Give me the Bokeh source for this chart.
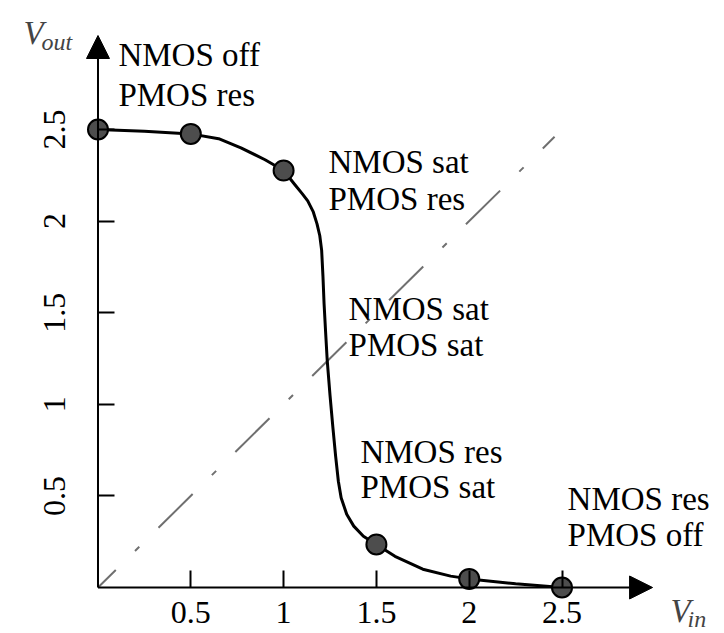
from bokeh.plotting import figure
from bokeh.models import Range1d, LinearAxis, FixedTicker, Arrow, NormalHead, Label
from bokeh.embed import file_html
from bokeh.resources import INLINE

# --- data -------------------------------------------------------------------
vin_points = [0.0, 0.5, 1.0, 1.5, 2.0, 2.5]
vout_points = [2.5, 2.476, 2.276, 0.235, 0.047, 0.0]

vin_curve = [0.0, 0.25, 0.5, 0.65, 0.77, 0.9, 1.0, 1.06, 1.10, 1.13, 1.16, 1.18, 1.195,
             1.205, 1.212, 1.218, 1.226, 1.235, 1.25, 1.265, 1.28, 1.295, 1.31, 1.34,
             1.378, 1.43, 1.5, 1.6, 1.75, 1.9, 2.0, 2.25, 2.5]
vout_curve = [2.5, 2.49, 2.476, 2.45, 2.40, 2.335, 2.276, 2.2, 2.15, 2.11, 2.05, 1.985, 1.92,
              1.84, 1.70, 1.55, 1.40, 1.24, 1.05, 0.88, 0.72, 0.58, 0.49, 0.40,
              0.335, 0.28, 0.235, 0.17, 0.10, 0.062, 0.047, 0.02, 0.0]

diag_vin = [0.0, 2.46]
diag_vout = [0.0, 2.46]

x_ticks = [0.5, 1, 1.5, 2, 2.5]
y_ticks = [0.5, 1, 1.5, 2, 2.5]

region_line1 = ["NMOS off", "NMOS sat", "NMOS sat", "NMOS res", "NMOS res"]
region_line2 = ["PMOS res", "PMOS res", "PMOS sat", "PMOS sat", "PMOS off"]

# --- layout (positions in data units) ----------------------------------------
region_x = [0.110, 1.242, 1.350, 1.414, 2.530]
region_y1 = [2.904, 2.322, 1.521, 0.739, 0.484]
region_y2 = [2.686, 2.122, 1.321, 0.546, 0.284]

FONT = "Liberation Serif, Times New Roman, Times, serif"

p = figure(width=724, height=633,
           x_range=Range1d(-0.5253, 3.3755), y_range=Range1d(-0.2511, 3.2041),
           x_axis_type=None, y_axis_type=None,
           toolbar_location=None, output_backend="svg",
           min_border=0, outline_line_color=None)
p.background_fill_color = "white"
p.border_fill_color = "white"

axis_style = dict(
    axis_line_color=None,
    major_tick_in=17, major_tick_out=0,
    major_tick_line_color="black", major_tick_line_width=2,
    minor_tick_line_color=None,
    major_label_text_font=FONT, major_label_text_font_size="32px",
    major_label_text_color="black",
)

xa = LinearAxis(fixed_location=0, ticker=FixedTicker(ticks=x_ticks),
                major_label_standoff=15, **axis_style)
p.add_layout(xa, "below")

ya = LinearAxis(fixed_location=0, ticker=FixedTicker(ticks=y_ticks),
                major_label_orientation="vertical",
                major_label_standoff=33, **axis_style)
p.add_layout(ya, "left")

# diagonal Vin = Vout reference line
p.line(diag_vin, diag_vout, line_color="#707070", line_width=2,
       line_dash="48 27 6 27", line_dash_offset=23)

# axes arrows
p.add_layout(Arrow(end=NormalHead(size=23, fill_color="black", line_color="black", line_width=1),
                   x_start=0, y_start=0, x_end=2.988, y_end=0,
                   line_width=2, line_color="black"))
p.add_layout(Arrow(end=NormalHead(size=23, fill_color="black", line_color="black", line_width=1),
                   x_start=0, y_start=0, x_end=0, y_end=3.013,
                   line_width=2, line_color="black"))

# transfer curve
p.line(vin_curve, vout_curve, line_color="black", line_width=3, line_join="round")
p.scatter(vin_points, vout_points, size=20, fill_color="#4d4d4d",
          line_color="black", line_width=2)

# region annotations
for x, y1, y2, t1, t2 in zip(region_x, region_y1, region_y2, region_line1, region_line2):
    for y, t in ((y1, t1), (y2, t2)):
        p.add_layout(Label(x=x, y=y, text=t, text_font=FONT, text_font_size="33px",
                           text_color="black", text_align="left",
                           text_baseline="alphabetic"))

# axis titles V_out and V_in
p.add_layout(Label(x=-0.401, y=3.024, text="V", text_font=FONT, text_font_size="33px",
                   text_font_style="italic", text_align="left", text_baseline="alphabetic"))
p.add_layout(Label(x=-0.305, y=2.975, text="out", text_font=FONT, text_font_size="24px",
                   text_font_style="italic", text_align="left", text_baseline="alphabetic"))
p.add_layout(Label(x=3.085, y=-0.131, text="V", text_font=FONT, text_font_size="33px",
                   text_font_style="italic", text_align="left", text_baseline="alphabetic"))
p.add_layout(Label(x=3.176, y=-0.170, text="in", text_font=FONT, text_font_size="24px",
                   text_font_style="italic", text_align="left", text_baseline="alphabetic"))

open("out.html", "w").write(file_html(p, INLINE))
